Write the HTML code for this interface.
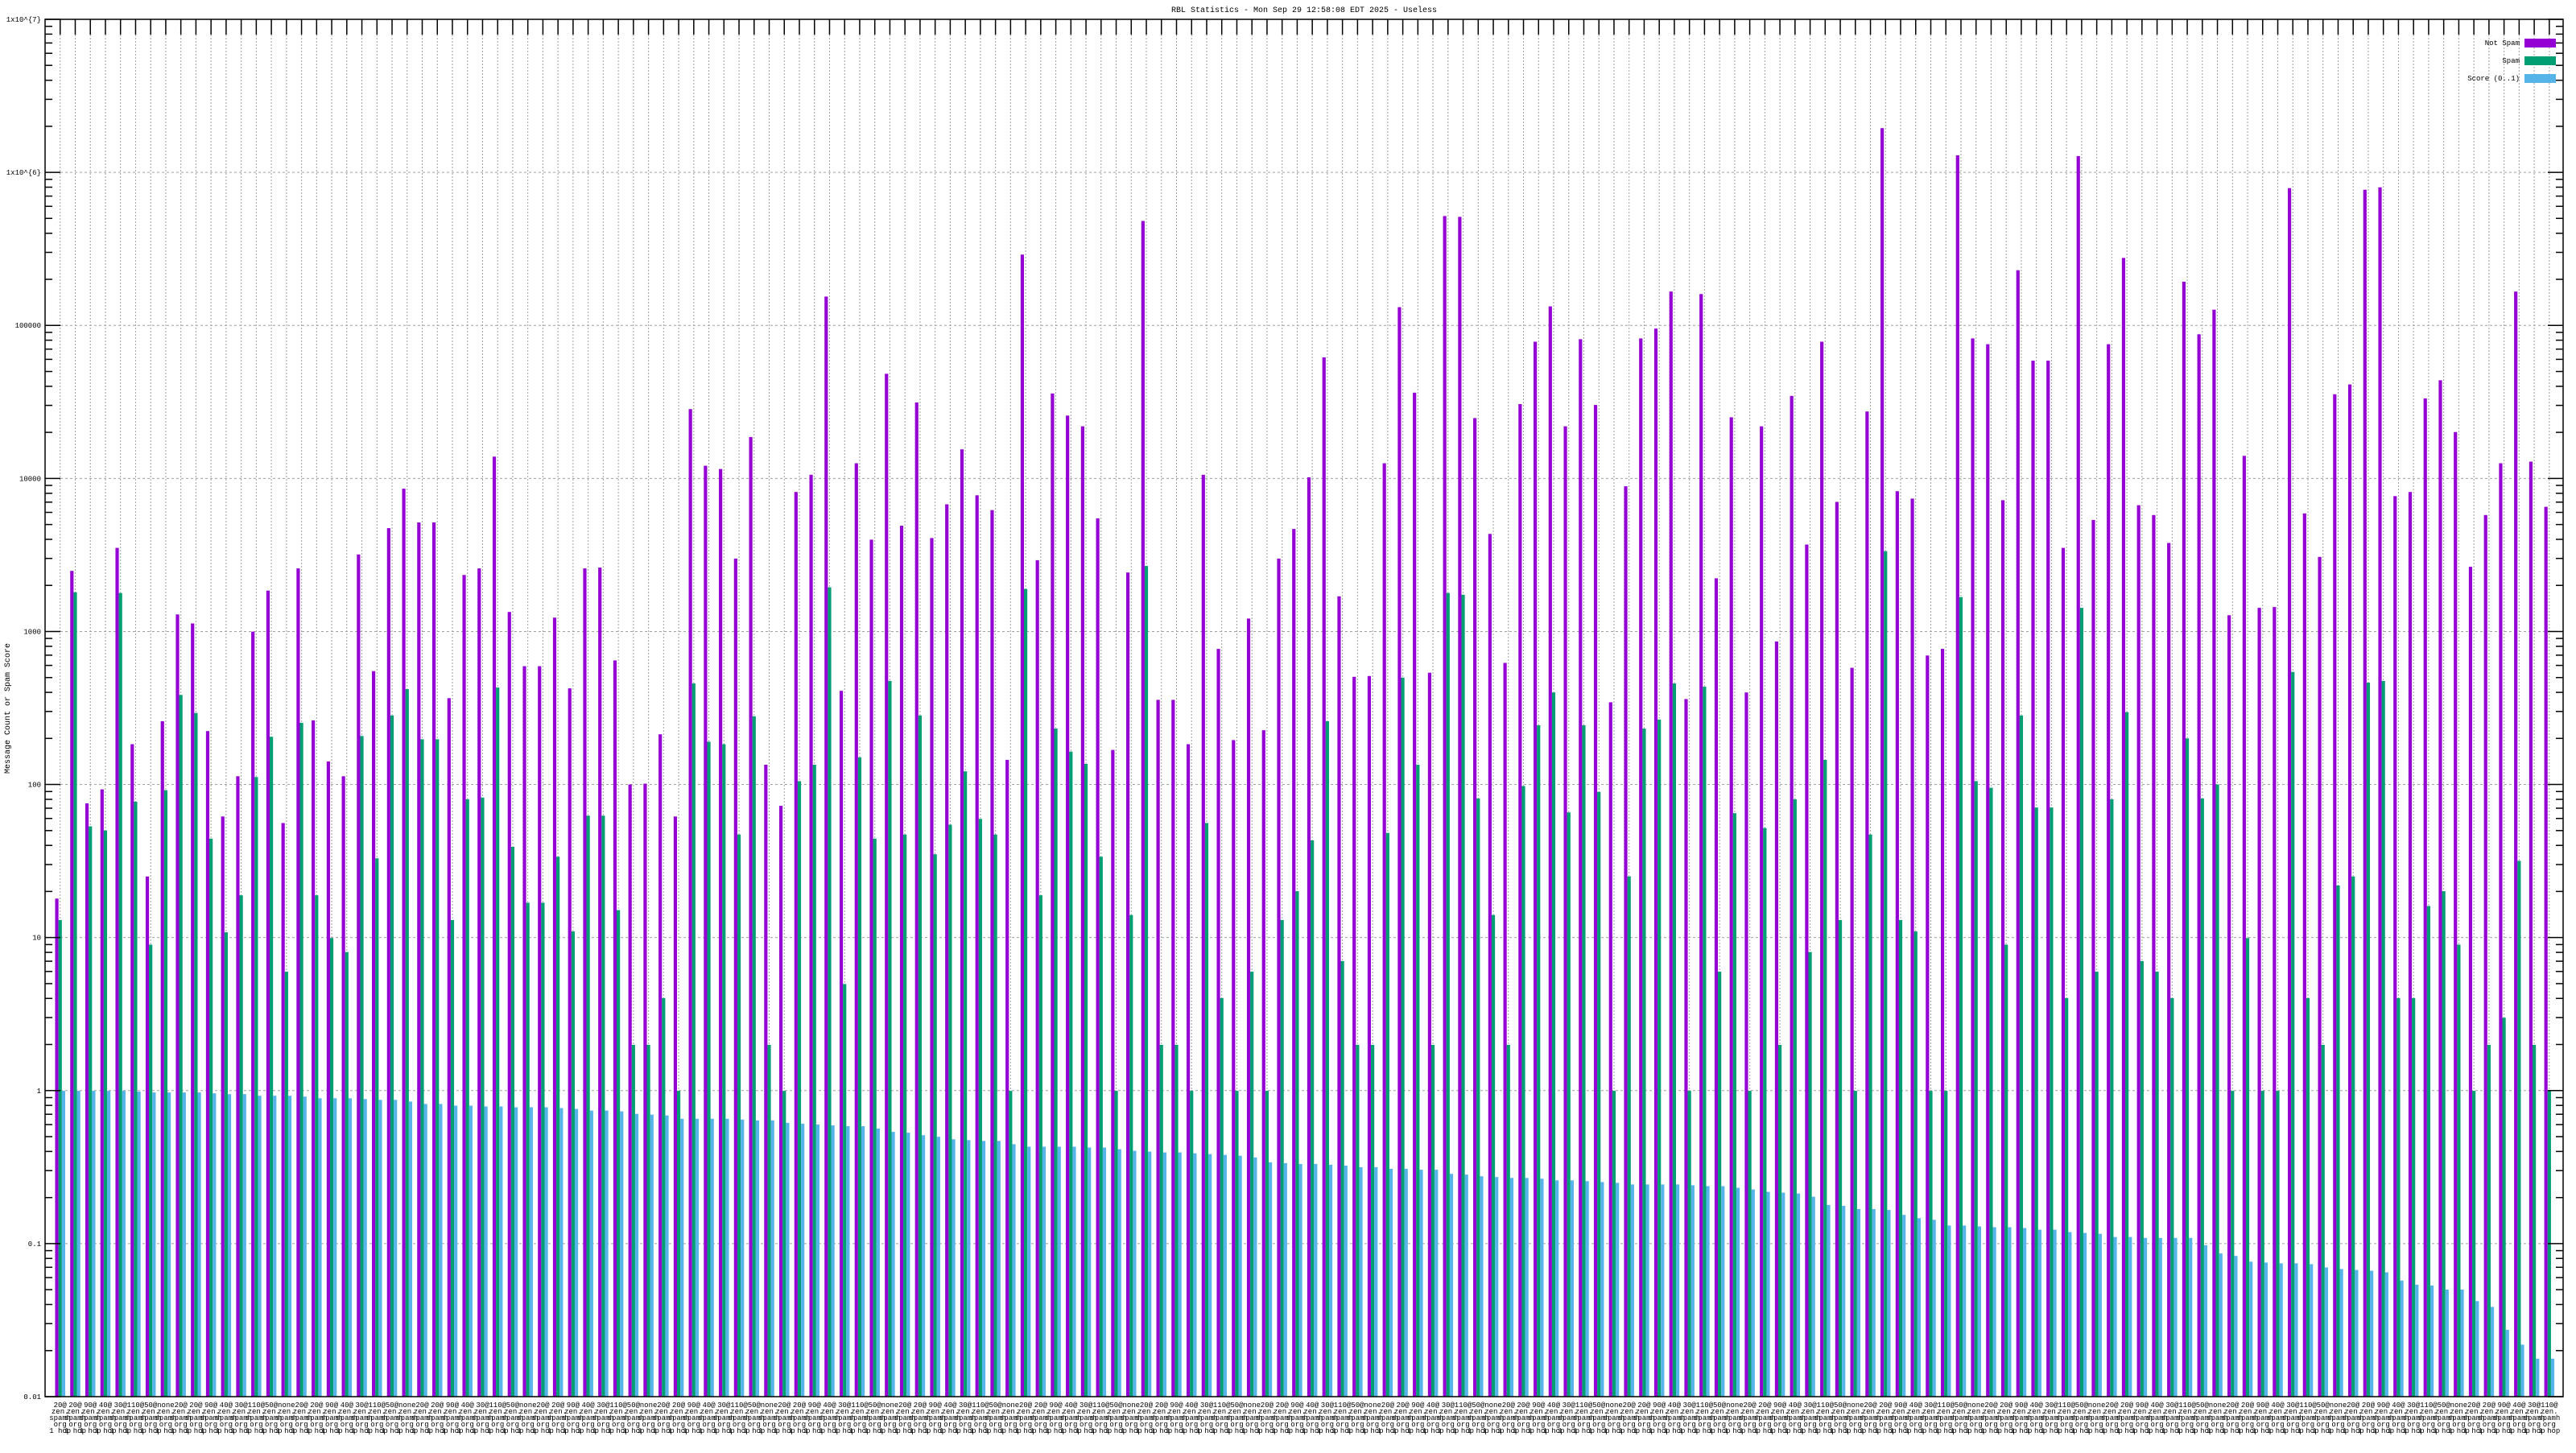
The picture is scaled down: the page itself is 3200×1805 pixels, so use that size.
<!DOCTYPE html>
<html><head><meta charset="utf-8">
<style>
html,body{margin:0;padding:0;background:#fff;}
svg text{font-family:"Liberation Mono",monospace;}
</style></head>
<body>
<svg id="c" xmlns="http://www.w3.org/2000/svg" width="3200" height="1800" viewBox="0 0 3200 1800">
<rect width="3200" height="1800" fill="#fff"/>
<text x="1620" y="15" font-size="10" text-anchor="middle">RBL Statistics - Mon Sep 29 12:58:08 EDT 2025 - Useless</text>
<text transform="translate(12,880) rotate(-90)" font-size="10" text-anchor="middle">Message Count or Spam Score</text>
</svg>
<script>
var D=[
[947,973,1181],[548,574,1181],[831,859,1181],[814,864,1181],[520,575,1181],[759,829,1182],[920,1003,1183],[731,815,1183],[601,699,1183],[612,721,1183],[743,874,1184],[847,988,1185],[798,943,1185],[622,799,1187],[572,750,1187],[855,1036,1187],[545,733,1188],[730,943,1190],[780,995,1190],[798,1012,1190],[528,749,1191],
[670,898,1192],[496,724,1192],[448,692,1194],[489,753,1197],[489,753,1197],[703,973,1199],[553,826,1199],[545,824,1200],[409,690,1200],[598,884,1201],[664,952,1201],[664,952,1201],[605,896,1202],[691,987,1203],[545,846,1205],[544,846,1205],[657,961,1206],[808,1125,1209],[807,1125,1210],[747,1068,1211],[847,1181,1215],
[351,685,1215],[420,756,1215],[424,759,1215],[533,869,1216],[385,725,1217],[784,1125,1217],[834,1181,1220],[452,804,1221],[431,784,1222],[214,568,1223],[694,1051,1224],[417,775,1224],[510,874,1227],[308,682,1231],[493,869,1232],[343,724,1235],[508,893,1237],[467,857,1240],[400,792,1241],[456,850,1242],[474,869,1242],
[778,1181,1246],[163,570,1249],[535,943,1249],[332,740,1249],[359,768,1249],[372,783,1250],[484,896,1250],[766,1181,1252],[550,967,1254],[122,542,1255],[705,1125,1256],[705,1125,1256],[759,1181,1257],[431,855,1258],[643,1068,1259],[754,1181,1260],[606,1036,1262],[742,1181,1268],[533,973,1269],[497,938,1270],[434,876,1270],
[288,731,1271],[579,1023,1272],[677,1125,1274],[676,1125,1274],[417,867,1276],[227,678,1276],[331,784,1277],[672,1125,1277],[116,575,1282],[117,577,1283],[362,825,1285],[503,967,1286],[660,1125,1287],[345,810,1287],[269,736,1288],[226,696,1290],[372,842,1290],[266,736,1291],[346,817,1292],[708,1181,1293],[445,920,1295],
[265,740,1295],[253,729,1295],[208,685,1295],[704,1181,1296],[211,689,1297],[557,1036,1297],[361,843,1299],[696,1181,1301],[372,861,1304],[634,1125,1305],[335,826,1306],[516,1012,1310],[269,778,1320],[464,973,1321],[666,1181,1325],[354,869,1325],[9,524,1326],[451,973,1332],[460,987,1336],[651,1181,1338],[643,1181,1345],
[42,580,1345],[265,804,1346],[272,812,1347],[462,1003,1347],[182,724,1348],[292,836,1350],[292,836,1350],[520,1068,1353],[43,593,1354],[486,1036,1355],[272,826,1359],[167,720,1359],[468,1023,1360],[480,1036,1360],[514,1068,1360],[196,752,1360],[260,825,1369],[230,808,1379],[602,1181,1382],[408,995,1389],[593,1181,1390],
[592,1181,1391],[82,671,1391],[478,1068,1392],[531,1125,1396],[333,931,1398],[321,920,1399],[84,684,1400],[81,682,1402],[457,1068,1412],[452,1068,1417],[338,956,1418],[316,938,1423],[379,1003,1423],[543,1181,1437],[480,1125,1444],[417,1092,1472],[208,901,1490],[415,1125,1507],[470,1181,1507]
];
var L=56,R=3184,T=24,B=1735,dec=(B-T)/9,slot=18.74,bw=4.17;
function ry(z){return 150+z*1600/1568;}
var s='';
// horizontal grid
for(var k=0;k<=9;k++){var y=T+k*dec;if(k>0&&k<9)s+='<line x1="'+(L+19)+'" x2="'+(R-19)+'" y1="'+y+'" y2="'+y+'" stroke="#a0a0a0" stroke-width="1" stroke-dasharray="3,3"/>';}
// vertical grid
for(var i=0;i<D.length;i++){var cx=L+(i+1)*slot;s+='<line x1="'+cx+'" x2="'+cx+'" y1="'+(T+19)+'" y2="'+B+'" stroke="#a0a0a0" stroke-width="1" stroke-dasharray="2,2"/>';}
// bars
for(var i=0;i<D.length;i++){var cx=L+(i+1)*slot,x0=cx-1.5*bw;var c=['#9400d3','#009e73','#56b4e9'];
for(var j=0;j<3;j++){var y=ry(D[i][j]);s+='<rect x="'+(x0+j*bw).toFixed(2)+'" y="'+y.toFixed(1)+'" width="'+bw+'" height="'+(B-y).toFixed(1)+'" fill="'+c[j]+'"/>';}
// labels
var l1=['20@','20@','90@','40@','30@','110@','50@','none'][i%8];
var lines=[l1,'zen.','spamh','org','1 hop'];
for(var m=0;m<5;m++)s+='<text x="'+cx.toFixed(1)+'" y="'+(1748+m*8)+'" font-size="9" text-anchor="middle">'+lines[m]+'</text>';
// top tick
s+='<line x1="'+cx+'" x2="'+cx+'" y1="'+T+'" y2="'+(T+19)+'" stroke="#000" stroke-width="1.5"/>';
}
// y ticks & labels
var labs=['1x10^{7}','1x10^{6}','100000','10000','1000','100','10','1','0.1','0.01'];
for(var k=0;k<=9;k++){var y=T+k*dec;
s+='<line x1="'+L+'" x2="'+(L+19)+'" y1="'+y+'" y2="'+y+'" stroke="#000" stroke-width="1.5"/>';
s+='<line x1="'+(R-19)+'" x2="'+R+'" y1="'+y+'" y2="'+y+'" stroke="#000" stroke-width="1.5"/>';
s+='<text x="'+(L-5)+'" y="'+(y+3)+'" font-size="9" text-anchor="end">'+labs[k]+'</text>';
if(k<9)for(var m=2;m<=9;m++){var yy=y+dec-Math.log10(m)*dec;
s+='<line x1="'+L+'" x2="'+(L+9)+'" y1="'+yy.toFixed(1)+'" y2="'+yy.toFixed(1)+'" stroke="#000" stroke-width="1.5"/>';
s+='<line x1="'+(R-9)+'" x2="'+R+'" y1="'+yy.toFixed(1)+'" y2="'+yy.toFixed(1)+'" stroke="#000" stroke-width="1.5"/>';}}
// border
s+='<rect x="'+L+'" y="'+T+'" width="'+(R-L)+'" height="'+(B-T)+'" fill="none" stroke="#000" stroke-width="1.5"/>';
// legend
var ln=['Not Spam','Spam','Score (0..1)'],lc=['#9400d3','#009e73','#56b4e9'],ly=[53,75,97];
for(var j=0;j<3;j++){s+='<rect x="3136" y="'+(ly[j]-5)+'" width="39" height="11" fill="'+lc[j]+'"/>';
s+='<text x="3130" y="'+(ly[j]+3)+'" font-size="9" text-anchor="end">'+ln[j]+'</text>';}
document.getElementById('c').insertAdjacentHTML('beforeend',s);
</script>
</body></html>
